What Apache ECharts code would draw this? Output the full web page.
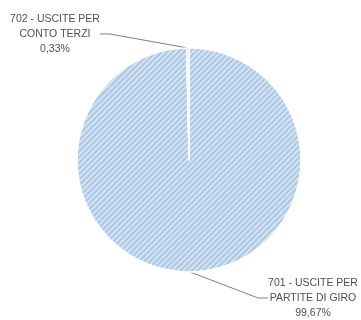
<!DOCTYPE html>
<html>
<head>
<meta charset="utf-8">
<script src="https://cdn.jsdelivr.net/npm/echarts@6/dist/echarts.min.js"></script>
<style>html,body{margin:0;padding:0;background:#fff}#c{width:361px;height:320px}</style>
</head>
<body>
<div id="c"></div>
<script>
var categories = ['701 - USCITE PER\nPARTITE DI GIRO', '702 - USCITE PER\nCONTO TERZI'];
var values = [99.67, 0.33];
var percentLabels = ['99,67%', '0,33%'];

var chart = echarts.init(document.getElementById('c'), null, {renderer: 'canvas'});
var labelPos = [
  {x: 313, y: 298},
  {x: 55, y: 34}
];
chart.setOption({
  animation: false,
  backgroundColor: '#ffffff',
  series: [{
    type: 'pie',
    center: [189, 160],
    radius: [0, 112],
    startAngle: 90,
    clockwise: true,
    data: categories.map(function (c, i) { return {name: c, value: values[i], pct: percentLabels[i]}; }),
    itemStyle: {
      color: '#abc7e6',
      borderColor: '#ffffff',
      borderWidth: 1.2,
      decal: {
        symbol: 'rect',
        symbolSize: 1,
        color: 'rgba(255,255,255,0.5)',
        dashArrayX: [1, 0],
        dashArrayY: [1.5, 1.5],
        rotation: -Math.PI / 4
      }
    },
    label: {
      show: true,
      formatter: function (p) { return p.name + '\n' + p.data.pct; },
      fontFamily: 'Liberation Sans, sans-serif',
      fontSize: 10.5,
      lineHeight: 15,
      color: '#505050',
      align: 'center'
    },
    labelLine: {
      show: true,
      length: 6,
      length2: 10,
      lineStyle: {color: '#7f7f7f', width: 1}
    },
    labelLayout: function (params) {
      var p = labelPos[params.dataIndex];
      return {x: p.x, y: p.y, align: 'center', verticalAlign: 'middle'};
    }
  }]
});
</script>
</body>
</html>
